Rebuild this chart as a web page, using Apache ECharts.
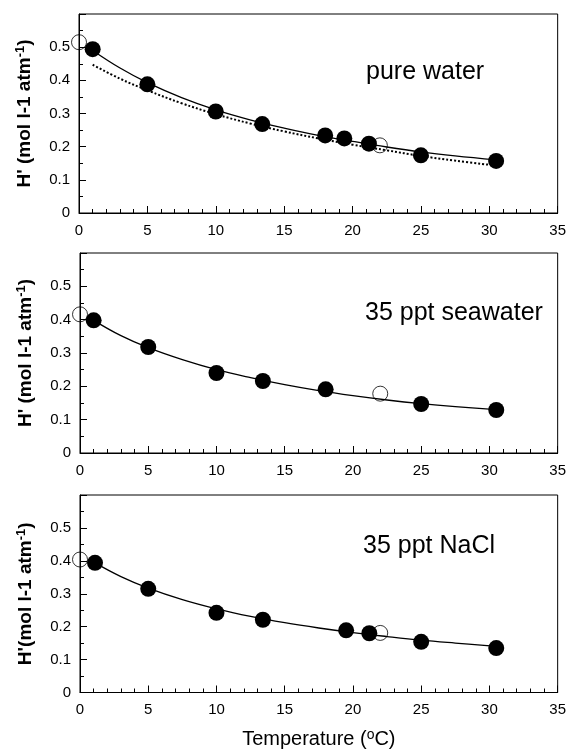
<!DOCTYPE html>
<html>
<head>
<meta charset="utf-8">
<script src="https://cdn.jsdelivr.net/npm/echarts@6/dist/echarts.min.js"></script>
<style>
html,body{margin:0;padding:0;background:#fff;}
#c{width:569px;height:750px;}
</style>
</head>
<body>
<div id="c"></div>
<script>
// ---------- data ----------
const xTicks = [0, 5, 10, 15, 20, 25, 30, 35];
const yTicks = [0, 0.1, 0.2, 0.3, 0.4, 0.5];

// Panel 1: pure water
const pureFilledX = [1, 5, 10, 13.4, 18, 19.4, 21.2, 25, 30.5];
const pureFilledY = [0.494, 0.388, 0.306, 0.268, 0.234, 0.225, 0.209, 0.174, 0.157];
const pureOpenX = [0, 22];
const pureOpenY = [0.515, 0.204];
const pureFitX = [1, 3, 5, 7.5, 10, 12.5, 15, 17.5, 20, 22.5, 25, 27.5, 30.5];
const pureFitY = [0.490, 0.437, 0.393, 0.348, 0.311, 0.281, 0.256, 0.234, 0.216, 0.199, 0.184, 0.172, 0.160];
const pureFit2Y = [0.447, 0.405, 0.370, 0.331, 0.298, 0.270, 0.246, 0.225, 0.206, 0.189, 0.172, 0.158, 0.143];

// Panel 2: 35 ppt seawater
const seaFilledX = [1, 5, 10, 13.4, 18, 25, 30.5];
const seaFilledY = [0.398, 0.318, 0.240, 0.216, 0.191, 0.147, 0.129];
const seaOpenX = [0, 22];
const seaOpenY = [0.416, 0.178];
const seaFitX = [1, 3, 5, 7.5, 10, 12.5, 15, 17.5, 20, 22.5, 25, 27.5, 30.5];
const seaFitY = [0.398, 0.352, 0.316, 0.280, 0.250, 0.226, 0.205, 0.187, 0.172, 0.159, 0.148, 0.139, 0.130];

// Panel 3: 35 ppt NaCl
const naclFilledX = [1.1, 5, 10, 13.4, 19.5, 21.2, 25, 30.5];
const naclFilledY = [0.394, 0.315, 0.242, 0.221, 0.189, 0.180, 0.154, 0.135];
const naclOpenX = [0, 22];
const naclOpenY = [0.404, 0.181];
const naclFitX = [1, 3, 5, 7.5, 10, 12.5, 15, 17.5, 20, 22.5, 25, 27.5, 30.5];
const naclFitY = [0.396, 0.352, 0.317, 0.282, 0.254, 0.231, 0.212, 0.196, 0.182, 0.170, 0.159, 0.150, 0.140];

const panelLabels = ['pure water', '35 ppt seawater', '35 ppt NaCl'];

// ---------- helpers ----------
const zip = (xs, ys) => xs.map((x, i) => [x, ys[i]]);
const FONT = '"Liberation Sans", Arial, sans-serif';

const grids = [
  {left: 79, top: 14, width: 479, height: 199},
  {left: 80, top: 253, width: 478, height: 200},
  {left: 80, top: 495, width: 478, height: 202}
];

function xAxis(i, withName) {
  const a = {
    type: 'value', gridIndex: i, min: xTicks[0], max: xTicks[xTicks.length - 1], interval: 5,
    axisLine: {show: true, onZero: false, lineStyle: {color: '#000', width: 1}},
    axisTick: {show: true, inside: true, length: 7, lineStyle: {color: '#000'}},
    minorTick: {show: true, splitNumber: 5, length: 4, lineStyle: {color: '#000'}},
    splitLine: {show: false},
    axisLabel: {color: '#000', fontSize: 15, fontFamily: FONT, margin: 10,
      showMinLabel: true, showMaxLabel: true}
  };
  if (withName) {
    a.name = '{t|Temperature (}{s|o}{t|C)}';
    a.nameLocation = 'middle';
    a.nameGap = 36;
    a.nameTextStyle = {rich: {
      t: {fontSize: 20, fontFamily: FONT, color: '#000'},
      s: {fontSize: 14, fontFamily: FONT, color: '#000', verticalAlign: 'top', padding: [0, 0, 7, 0]}
    }};
  }
  return a;
}

function yAxis(i, nospace) {
  return {
    type: 'value', gridIndex: i, min: 0, max: 0.6, interval: 0.1,
    axisLine: {show: true, onZero: false, lineStyle: {color: '#000', width: 1}},
    axisTick: {show: true, inside: true, length: 7, lineStyle: {color: '#000'}},
    minorTick: {show: true, splitNumber: 2, length: 4, lineStyle: {color: '#000'}},
    splitLine: {show: false},
    axisLabel: {color: '#000', fontSize: 15, fontFamily: FONT, margin: 9,
      formatter: v => {
        const r = Math.round(v * 10) / 10;
        if (r >= 0.6) return '';
        return r === 0 ? '0' : r.toFixed(1);
      }},
    name: (nospace ? "{b|H'(mol l-1 atm}" : "{b|H' (mol l-1 atm}") + '{s|-1}{b|)}',
    nameLocation: 'middle',
    nameRotate: 90,
    nameGap: 44,
    nameTextStyle: {rich: {
      b: {fontSize: 19, fontWeight: 'bold', fontFamily: FONT, color: '#000'},
      s: {fontSize: 13, fontWeight: 'bold', fontFamily: FONT, color: '#000', verticalAlign: 'top', padding: [0, 0, 8, 0]}
    }}
  };
}

function filled(i, xs, ys) {
  return {type: 'scatter', xAxisIndex: i, yAxisIndex: i, data: zip(xs, ys),
    symbol: 'circle', symbolSize: 16, itemStyle: {color: '#000', opacity: 1}, z: 5, silent: true};
}
function open(i, xs, ys) {
  return {type: 'scatter', xAxisIndex: i, yAxisIndex: i, data: zip(xs, ys),
    symbol: 'circle', symbolSize: 15,
    itemStyle: {color: 'rgba(255,255,255,0)', borderColor: '#000', borderWidth: 0.8, opacity: 1}, z: 6, silent: true};
}
function fit(i, xs, ys, dotted) {
  return {type: 'line', xAxisIndex: i, yAxisIndex: i, data: zip(xs, ys), smooth: 0.4,
    showSymbol: false, silent: true,
    lineStyle: dotted ? {color: '#000', width: 2, type: [2, 2]} : {color: '#000', width: 1.3}, z: 3};
}

const option = {
  animation: false,
  backgroundColor: '#fff',
  grid: grids.map(g => Object.assign({show: true, borderColor: '#000', borderWidth: 1, backgroundColor: 'transparent'}, g)),
  xAxis: [xAxis(0, false), xAxis(1, false), xAxis(2, true)],
  yAxis: [yAxis(0, false), yAxis(1, false), yAxis(2, true)],
  title: [
    {text: panelLabels[0], left: 361, top: 55},
    {text: panelLabels[1], left: 360, top: 296},
    {text: panelLabels[2], left: 358, top: 529}
  ].map(t => Object.assign(t, {textStyle: {fontSize: 25, fontWeight: 'normal', fontFamily: FONT, color: '#000'}})),
  series: [
    fit(0, pureFitX, pureFitY, false),
    fit(0, pureFitX, pureFit2Y, true),
    filled(0, pureFilledX, pureFilledY),
    open(0, pureOpenX, pureOpenY),
    fit(1, seaFitX, seaFitY, false),
    filled(1, seaFilledX, seaFilledY),
    open(1, seaOpenX, seaOpenY),
    fit(2, naclFitX, naclFitY, false),
    filled(2, naclFilledX, naclFilledY),
    open(2, naclOpenX, naclOpenY)
  ]
};

const chart = echarts.init(document.getElementById('c'), null, {renderer: 'canvas'});
chart.setOption(option);
</script>
</body>
</html>
